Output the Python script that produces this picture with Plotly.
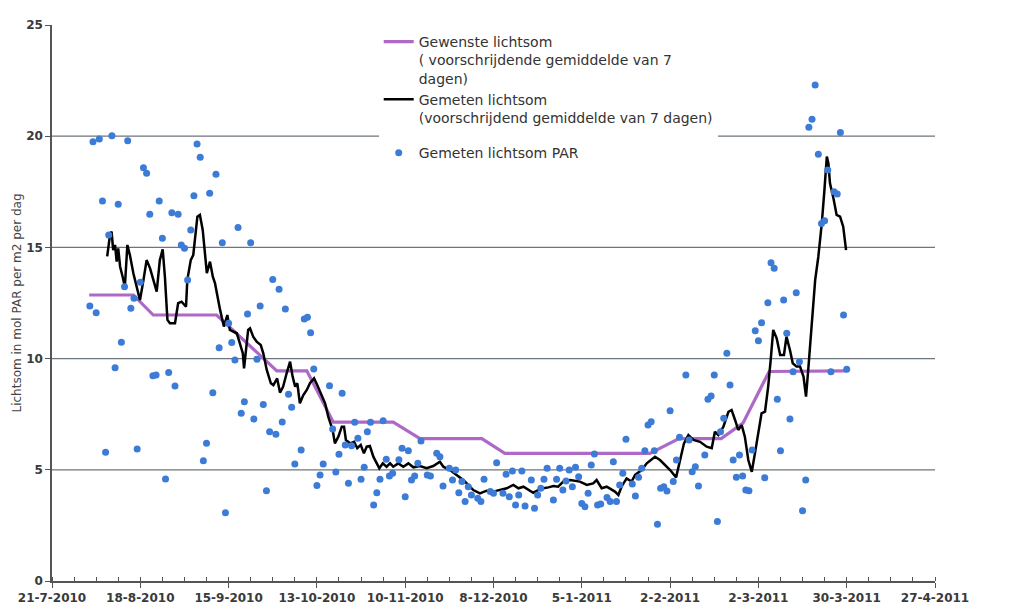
import pandas as pd
import plotly.graph_objects as go

START = "2010-07-21"
EINDE = "2011-04-27"

# Gewenste lichtsom (voorschrijdend gemiddelde van 7 dagen) – hoekpunten (dagen na 21-7-2010)
gewenst_dag = [11.8, 25.8, 32.1, 52.2, 71.3, 80.8, 89.2, 108.2, 116.7, 136.3,
               143.6, 189.6, 198.8, 212.2, 219.1, 227.4, 252.1]
gewenst_waarde = [12.86, 12.86, 11.96, 11.96, 9.45, 9.45, 7.14, 7.14, 6.40, 6.40,
                  5.74, 5.74, 6.40, 6.40, 7.10, 9.42, 9.45]

# Gemeten lichtsom (voorschrijdend gemiddelde van 7 dagen)
gemeten_gem_dag = [
    17.5, 18.4, 18.9, 19.4, 20.0, 20.5, 21.0, 21.6, 22.4, 23.1,
    23.9, 24.7, 25.8, 27.0, 27.9, 29.0, 30.0, 31.1, 31.9, 33.2,
    34.2, 35.1, 35.8, 36.6, 37.4, 39.0, 40.0, 41.1, 42.5, 42.9,
    44.0, 44.8, 46.1, 46.9, 47.8, 48.5, 49.1, 50.1, 51.0, 51.7,
    52.4, 53.3, 54.5, 55.6, 56.4, 58.6, 60.5, 60.9, 62.2, 62.8,
    63.8, 64.9, 66.2, 67.0, 68.1, 69.4, 70.2, 71.4, 72.3, 73.3,
    74.4, 75.5, 76.3, 77.1, 77.8, 78.6, 79.7, 80.8, 81.8, 83.1,
    84.1, 85.5, 86.6, 87.6, 89.0, 89.7, 90.8, 91.9, 92.6, 93.2,
    94.5, 95.8, 96.8, 97.9, 98.9, 99.8, 100.8, 101.9, 103.0, 103.8,
    104.9, 106.1, 107.2, 108.2, 109.8, 111.4, 113.0, 114.6, 116.7, 118.8,
    120.9, 123.0, 124.1, 126.2, 128.3, 130.4, 132.0, 133.6, 135.7, 137.8,
    139.9, 142.1, 144.2, 146.3, 147.9, 149.5, 151.0, 152.6, 154.2, 155.8,
    157.4, 159.0, 160.5, 162.1, 164.3, 167.4, 169.6, 171.6, 172.7, 174.3,
    175.9, 177.5, 178.5, 179.6, 180.6, 182.2, 183.8, 184.9, 187.0, 188.6,
    189.8, 191.2, 192.8, 194.4, 196.0, 197.9, 199.1, 200.4, 201.8, 203.4,
    205.5, 207.6, 209.2, 210.2, 211.3, 212.9, 214.5, 215.5, 216.6, 217.6,
    218.7, 219.7, 220.8, 221.9, 222.9, 224.0, 225.0, 226.1, 227.1, 227.9,
    228.7, 229.8, 230.9, 232.1, 232.9, 234.0, 234.9, 236.1, 237.2, 238.3,
    239.1, 239.8, 240.9, 242.0, 243.0, 244.1, 244.9, 245.7, 246.2, 246.7,
    247.8, 248.8, 249.9, 250.9, 251.8]
gemeten_gem_waarde = [
    14.60, 15.56, 15.71, 14.88, 15.11, 14.36, 14.96, 14.13, 13.68, 13.23,
    15.11, 14.66, 13.84, 13.08, 12.63, 13.53, 14.43, 14.06, 13.68, 13.01,
    14.43, 14.91, 13.68, 11.74, 11.59, 11.59, 12.49, 12.56, 12.33, 13.53,
    14.43, 14.66, 16.38, 16.46, 15.78, 14.73, 13.84, 14.36, 13.68, 13.38,
    12.78, 12.19, 11.44, 11.96, 11.29, 11.14, 10.24, 9.56, 11.29, 11.36,
    10.99, 10.76, 10.61, 10.24, 9.49, 8.89, 8.81, 9.11, 8.47, 8.74,
    9.34, 9.86, 9.19, 8.74, 8.89, 7.99, 8.36, 8.59, 8.89, 9.11,
    8.81, 8.36, 7.99, 7.39, 6.79, 6.19, 6.49, 6.94, 6.94, 6.34,
    6.19, 6.26, 5.97, 6.12, 5.74, 6.04, 6.07, 5.59, 5.29, 5.07,
    5.29, 5.14, 5.29, 5.14, 5.29, 5.14, 5.29, 5.11, 5.17, 5.07,
    5.17, 5.36, 5.14, 4.99, 4.77, 4.54, 4.32, 4.09, 3.94, 4.06,
    4.02, 4.09, 4.17, 4.32, 4.17, 4.24, 4.09, 3.97, 4.09, 4.17,
    4.21, 4.27, 4.24, 4.47, 4.54, 4.47, 4.32, 4.39, 4.54, 4.17,
    4.24, 4.12, 4.02, 3.87, 4.24, 4.61, 4.47, 4.77, 4.99, 5.29,
    5.44, 5.59, 5.44, 5.22, 4.99, 4.66, 5.44, 6.19, 6.56, 6.34,
    6.26, 6.04, 5.97, 6.71, 6.56, 6.94, 7.61, 7.69, 7.24, 6.79,
    7.01, 6.49, 5.44, 4.91, 5.74, 6.79, 7.54, 7.61, 8.74, 9.94,
    11.29, 10.91, 10.16, 10.16, 10.99, 10.39, 9.79, 9.64, 9.64, 9.19,
    8.29, 9.49, 11.59, 13.53, 14.58, 16.08, 17.51, 19.08, 18.78, 17.88,
    17.21, 16.46, 16.38, 15.93, 14.88]

# Gemeten lichtsom PAR (dagwaarden)
par_dag = [
    12, 13, 14, 15, 16, 17, 18, 19, 20, 21,
    22, 23, 24, 25, 26, 27, 28, 29, 30, 31,
    32, 33, 34, 35, 36, 37, 38, 39, 40, 41,
    42, 43, 44, 45, 46, 47, 48, 49, 50, 51,
    52, 53, 54, 55, 56, 57, 58, 59, 60, 61,
    62, 63, 64, 65, 66, 67, 68, 69, 70, 71,
    72, 73, 74, 75, 76, 77, 79, 80, 81, 82,
    83, 84, 85, 86, 88, 89, 90, 91, 92, 93,
    94, 95, 96, 97, 98, 99, 100, 101, 102, 103,
    104, 105, 106, 107, 108, 110, 111, 112, 113, 114,
    115, 116, 117, 119, 120, 122, 123, 124, 126, 127,
    128, 129, 130, 131, 132, 133, 135, 136, 137, 139,
    140, 141, 143, 144, 145, 146, 147, 148, 149, 150,
    152, 153, 154, 155, 156, 157, 159, 160, 161, 162,
    163, 164, 165, 166, 167, 168, 169, 170, 171, 172,
    173, 174, 176, 177, 178, 179, 180, 181, 182, 184,
    185, 186, 187, 188, 189, 190, 191, 192, 193, 194,
    195, 196, 197, 198, 199, 201, 202, 203, 204, 205,
    207, 208, 209, 210, 211, 212, 213, 214, 215, 216,
    217, 218, 219, 220, 221, 222, 223, 224, 225, 226,
    227, 228, 229, 230, 231, 232, 233, 234, 235, 236,
    237, 238, 239, 240, 241, 242, 243, 244, 245, 246,
    247, 248, 249, 250, 251, 252]
par_waarde = [
    12.36, 19.75, 12.06, 19.87, 17.09, 5.79, 15.56, 20.02, 9.59, 16.94,
    10.73, 13.23, 19.80, 12.26, 12.71, 5.94, 13.43, 18.58, 18.33, 16.49,
    9.23, 9.26, 17.09, 15.41, 4.59, 9.38, 16.56, 8.77, 16.49, 15.11,
    14.96, 13.53, 15.78, 17.32, 19.65, 19.05, 5.41, 6.19, 17.43, 8.47,
    18.29, 10.49, 15.21, 3.07, 11.59, 10.72, 9.94, 15.90, 7.54, 8.06,
    12.00, 15.21, 7.28, 9.97, 12.36, 7.94, 4.06, 6.71, 13.56, 6.60,
    13.12, 7.15, 12.23, 8.40, 7.81, 5.26, 5.89, 11.78, 11.86, 11.16,
    9.53, 4.29, 4.77, 5.26, 8.78, 6.83, 4.90, 5.70, 8.44, 6.12,
    4.39, 6.08, 7.14, 6.42, 4.57, 5.11, 6.71, 7.14, 3.42, 3.97,
    4.57, 7.21, 5.47, 4.72, 4.84, 5.45, 5.97, 3.79, 5.86, 4.54,
    4.72, 5.29, 6.29, 4.77, 4.72, 5.74, 5.59, 4.27, 5.07, 4.54,
    4.99, 3.97, 4.47, 3.57, 4.24, 3.87, 3.72, 3.57, 4.57, 4.02,
    3.94, 5.32, 3.94, 4.80, 3.79, 4.95, 3.42, 3.87, 4.95, 3.37,
    4.54, 3.27, 3.87, 4.17, 4.57, 5.07, 3.64, 4.57, 5.07, 4.09,
    4.50, 4.99, 4.24, 5.11, 4.69, 3.49, 3.34, 3.94, 5.22, 5.71,
    3.42, 3.46, 3.76, 3.57, 5.36, 3.57, 4.32, 4.84, 6.37, 4.36,
    3.82, 4.66, 5.07, 5.86, 7.01, 7.16, 5.86, 2.55, 4.17, 4.24,
    4.05, 7.66, 4.47, 5.44, 6.46, 9.26, 6.34, 4.91, 5.14, 4.27,
    5.67, 8.17, 8.32, 9.26, 2.67, 6.71, 7.32, 10.24, 8.81, 5.44,
    4.66, 5.67, 4.72, 4.09, 4.06, 5.89, 11.25, 10.80, 11.61, 4.64,
    12.51, 14.31, 14.06, 8.17, 5.86, 12.63, 11.14, 7.28, 9.41, 12.96,
    9.86, 3.16, 4.54, 20.40, 20.76, 22.30, 19.19, 16.08, 16.20, 18.48,
    9.41, 17.50, 17.40, 20.17, 11.96, 9.52]

y_ticks = [0, 5, 10, 15, 20, 25]
raster = [5, 10, 15, 20]

assert len(gewenst_dag) == len(gewenst_waarde)
assert len(gemeten_gem_dag) == len(gemeten_gem_waarde)
assert len(par_dag) == len(par_waarde)

base = pd.Timestamp(START)


def naar_datum(dagen):
    return [base + pd.Timedelta(days=d) for d in dagen]


fig = go.Figure()

fig.add_trace(go.Scatter(
    x=naar_datum(gewenst_dag), y=gewenst_waarde, mode="lines",
    name="Gewenste lichtsom<br>( voorschrijdende gemiddelde van 7<br>dagen)",
    line=dict(color="#AE68C6", width=3.2), legendgroup="a"))

fig.add_trace(go.Scatter(
    x=naar_datum(gemeten_gem_dag), y=gemeten_gem_waarde, mode="lines",
    name="Gemeten lichtsom<br>(voorschrijdend gemiddelde van 7 dagen)",
    line=dict(color="#000000", width=2.5), legendgroup="a"))

fig.add_trace(go.Scatter(
    x=naar_datum(par_dag), y=par_waarde, mode="markers",
    name="Gemeten lichtsom PAR",
    marker=dict(color="#3C7BD6", size=7), legendgroup="b"))

for g in raster:
    fig.add_shape(type="line", xref="paper", x0=0, x1=1, yref="y", y0=g, y1=g,
                  line=dict(color="#6c767c", width=1.3), layer="below")

tickfont = dict(family="DejaVu Sans", size=12, color="#3a3a3a", weight="bold")
DAG_MS = 86400000

# the page body adds an 8px offset, so the figure is 8px smaller on each axis
fig.update_layout(
    width=1004, height=601,
    margin=dict(l=44, r=77, t=17, b=28),
    paper_bgcolor="white", plot_bgcolor="white",
    showlegend=True,
    legend=dict(x=0.37, y=0.998, xanchor="left", yanchor="top",
                bgcolor="white", font=dict(family="DejaVu Sans", size=14, color="#333333"),
                valign="top", tracegroupgap=14, itemwidth=30),
    xaxis=dict(type="date", range=[START, EINDE], tick0=START, dtick=28 * DAG_MS,
               tickformat="%-d-%-m-%Y", tickfont=tickfont, automargin=False,
               showline=True, linecolor="#555555", linewidth=1.5,
               ticks="outside", ticklen=5, tickcolor="#555555",
               minor=dict(dtick=7 * DAG_MS, tick0=START, ticks="inside", ticklen=4,
                          tickcolor="#555555", showgrid=False),
               showgrid=False, zeroline=False),
    yaxis=dict(range=[0, 25], tickvals=y_ticks, tickfont=tickfont, automargin=False,
               showline=True, linecolor="#555555", linewidth=1.5,
               ticks="outside", ticklen=5, tickcolor="#555555",
               showgrid=False, zeroline=False,
               title=dict(text="Lichtsom in mol PAR per m2 per dag",
                          font=dict(family="DejaVu Sans", size=12, color="#444444"),
                          standoff=2)),
)

fig.write_html("out.html")
